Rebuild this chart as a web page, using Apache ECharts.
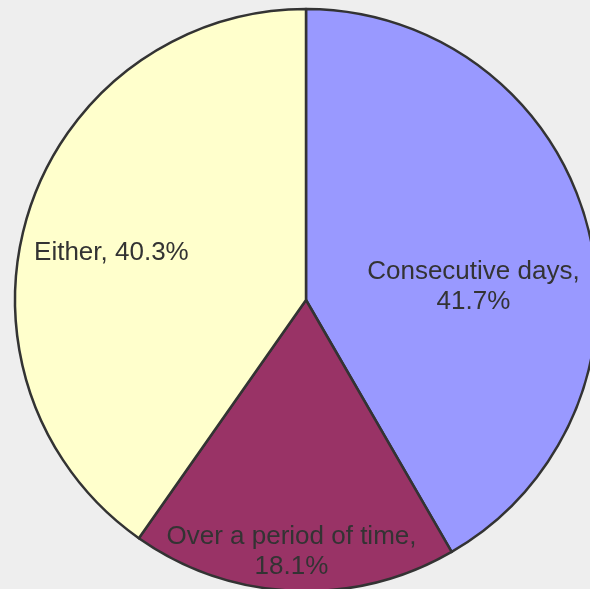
<!DOCTYPE html>
<html>
<head>
<meta charset="utf-8">
<script src="https://cdn.jsdelivr.net/npm/echarts@6/dist/echarts.min.js"></script>
<style>
  html, body { margin: 0; padding: 0; background: #eeeeee; }
  #chart { width: 590px; height: 589px; }
</style>
</head>
<body>
<div id="chart"></div>
<script>
// 扇区名称和百分比
const names = ['Consecutive days', 'Over a period of time', 'Either']
const values = [41.7, 18.1, 40.3]
const colors = ['#9999ff', '#993366', '#ffffcc']
// 标签换行方式和偏移
const labelTexts = ['Consecutive days,\n41.7%', 'Over a period of time,\n18.1%', 'Either, 40.3%']
const labelOffsets = [[24, 25], [-8, 103], [-53, -2]]

const myChart = echarts.init(document.getElementById('chart'))
myChart.setOption({
  backgroundColor: '#eeeeee',
  animation: false,
  series: [
    {
      type: 'pie',
      center: [306, 300],
      radius: 291,
      startAngle: 90,
      clockwise: true,
      itemStyle: {
        borderColor: '#333333',
        borderWidth: 2.5
      },
      label: {
        position: 'inside',
        color: '#333333',
        fontFamily: 'Liberation Sans, Arial, sans-serif',
        fontSize: 26,
        lineHeight: 30,
        align: 'center'
      },
      labelLine: { show: false },
      emphasis: { disabled: true },
      data: names.map((n, i) => ({
        name: n,
        value: values[i],
        itemStyle: { color: colors[i] },
        label: { formatter: labelTexts[i], offset: labelOffsets[i] }
      }))
    }
  ]
})
</script>
</body>
</html>
